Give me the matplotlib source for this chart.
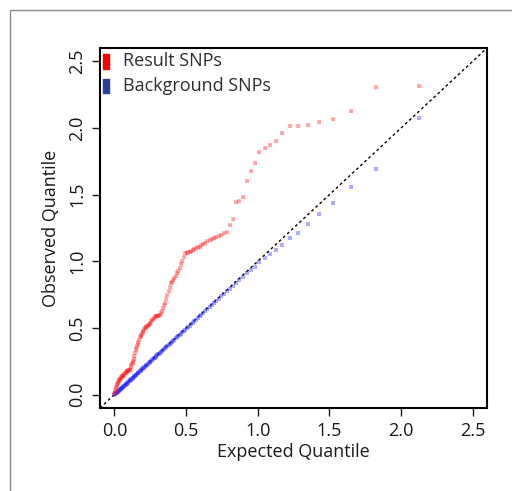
"""QQ plot of result SNPs vs background SNPs (observed vs expected -log10 quantiles)."""

import matplotlib

matplotlib.use("Agg")

import matplotlib.pyplot as plt
from matplotlib.patches import Rectangle

# expected quantiles (shared by both series), largest first
expected = [
    2.127, 1.826, 1.650, 1.525, 1.428, 1.349, 1.282, 1.224, 1.173, 1.127,
    1.086, 1.048, 1.013, 0.981, 0.951, 0.923, 0.897, 0.872, 0.848, 0.826,
    0.805, 0.785, 0.765, 0.747, 0.729, 0.712, 0.696, 0.680, 0.665, 0.650,
    0.636, 0.622, 0.608, 0.596, 0.583, 0.571, 0.559, 0.547, 0.536, 0.525,
    0.514, 0.504, 0.494, 0.484, 0.474, 0.464, 0.455, 0.446, 0.437, 0.428,
    0.419, 0.411, 0.403, 0.395, 0.387, 0.379, 0.371, 0.364, 0.356, 0.349,
    0.342, 0.335, 0.328, 0.321, 0.314, 0.307, 0.301, 0.294, 0.288, 0.282,
    0.276, 0.270, 0.264, 0.258, 0.252, 0.246, 0.241, 0.235, 0.229, 0.224,
    0.219, 0.213, 0.208, 0.203, 0.198, 0.193, 0.187, 0.183, 0.178, 0.173,
    0.168, 0.163, 0.159, 0.154, 0.149, 0.145, 0.140, 0.136, 0.131, 0.127,
    0.123, 0.118, 0.114, 0.110, 0.106, 0.102, 0.098, 0.094, 0.090, 0.086,
    0.082, 0.078, 0.074, 0.070, 0.066, 0.063, 0.059, 0.055, 0.051, 0.048,
    0.044, 0.041, 0.037, 0.034, 0.030, 0.027, 0.023, 0.020, 0.016, 0.013,
    0.010, 0.006, 0.003, 0.000,
]

result_observed = [
    2.318, 2.310, 2.126, 2.070, 2.046, 2.020, 2.013, 2.013, 1.961, 1.905,
    1.876, 1.853, 1.823, 1.740, 1.676, 1.605, 1.481, 1.451, 1.446, 1.318,
    1.275, 1.223, 1.210, 1.200, 1.193, 1.185, 1.178, 1.170, 1.160, 1.150,
    1.140, 1.130, 1.120, 1.110, 1.105, 1.098, 1.090, 1.085, 1.078, 1.073,
    1.068, 1.063, 1.060, 1.030, 1.000, 0.980, 0.950, 0.930, 0.910, 0.890,
    0.873, 0.860, 0.845, 0.836, 0.810, 0.780, 0.750, 0.720, 0.690, 0.670,
    0.650, 0.625, 0.610, 0.600, 0.595, 0.592, 0.590, 0.590, 0.588, 0.585,
    0.575, 0.565, 0.560, 0.550, 0.540, 0.530, 0.523, 0.520, 0.515, 0.510,
    0.505, 0.500, 0.490, 0.480, 0.470, 0.460, 0.450, 0.440, 0.430, 0.410,
    0.395, 0.380, 0.365, 0.350, 0.335, 0.310, 0.290, 0.270, 0.255, 0.240,
    0.235, 0.220, 0.205, 0.195, 0.188, 0.185, 0.183, 0.180, 0.178, 0.175,
    0.173, 0.165, 0.160, 0.155, 0.150, 0.146, 0.143, 0.140, 0.135, 0.130,
    0.125, 0.120, 0.115, 0.110, 0.105, 0.098, 0.090, 0.080, 0.070, 0.060,
    0.050, 0.035, 0.020, 0.005,
]

background_observed = [
    2.078, 1.695, 1.556, 1.438, 1.353, 1.278, 1.215, 1.175, 1.123, 1.085,
    1.055, 1.028, 0.993, 0.960, 0.935, 0.910, 0.885, 0.860, 0.838, 0.815,
    0.795, 0.775, 0.755, 0.737, 0.720, 0.703, 0.687, 0.671, 0.656, 0.641,
    0.627, 0.614, 0.600, 0.588, 0.575, 0.563, 0.551, 0.540, 0.529, 0.518,
    0.507, 0.497, 0.487, 0.477, 0.467, 0.458, 0.449, 0.440, 0.431, 0.422,
    0.413, 0.405, 0.397, 0.389, 0.381, 0.373, 0.366, 0.359, 0.351, 0.344,
    0.337, 0.330, 0.323, 0.316, 0.309, 0.302, 0.296, 0.290, 0.284, 0.278,
    0.272, 0.266, 0.260, 0.254, 0.248, 0.242, 0.237, 0.231, 0.225, 0.220,
    0.215, 0.210, 0.205, 0.200, 0.195, 0.190, 0.184, 0.180, 0.175, 0.170,
    0.165, 0.160, 0.156, 0.151, 0.146, 0.142, 0.137, 0.133, 0.128, 0.124,
    0.120, 0.115, 0.111, 0.107, 0.103, 0.099, 0.095, 0.091, 0.087, 0.083,
    0.079, 0.075, 0.071, 0.068, 0.064, 0.061, 0.057, 0.053, 0.049, 0.046,
    0.042, 0.039, 0.035, 0.032, 0.028, 0.025, 0.022, 0.019, 0.015, 0.012,
    0.009, 0.006, 0.003, 0.000,
]

ticks = [0.0, 0.5, 1.0, 1.5, 2.0, 2.5]
tick_labels = ["0.0", "0.5", "1.0", "1.5", "2.0", "2.5"]
limits = (-0.1, 2.6)

plt.rcParams["font.family"] = ["Open Sans", "DejaVu Sans"]
plt.rcParams["font.size"] = 13

fig = plt.figure(figsize=(5.12, 4.91), dpi=100)
ax = fig.add_axes([0.1953, 0.169, 0.7557, 0.733])

# partial outer frame like the source figure
fig.patches.append(
    Rectangle((10 / 512, -0.1), 1.2, 1 - 10 / 491 + 0.1, transform=fig.transFigure,
              fill=False, edgecolor="#8c8c8c", linewidth=1.0)
)

ax.plot(limits, limits, color="black", linestyle=(0, (2, 2)), linewidth=1.0, zorder=1)

ax.scatter(expected, background_observed, marker="s", s=5, color="#2828ff",
           alpha=0.38, linewidths=0, zorder=2)
ax.scatter(expected, result_observed, marker="s", s=12, color="#ff2020",
           alpha=0.3, linewidths=0, zorder=3)
ax.scatter(expected, result_observed, marker="x", s=6, color="#ff2020",
           alpha=0.25, linewidths=0.6, zorder=3)

ax.set_xlim(*limits)
ax.set_ylim(*limits)
ax.set_xticks(ticks)
ax.set_xticklabels(tick_labels)
ax.set_yticks(ticks)
ax.set_yticklabels(tick_labels, rotation=90, va="center")
ax.tick_params(direction="out", length=6, width=1, pad=4, colors="#1a1a1a")
for spine in ax.spines.values():
    spine.set_linewidth(1.5)

ax.set_xlabel("Expected Quantile", color="#1a1a1a", labelpad=2)
ax.set_ylabel("Observed Quantile", color="#1a1a1a", labelpad=6)

# legend: coloured blocks with labels
legend_items = [("Result SNPs", "#ff0000"), ("Background SNPs", "#2a3f9a")]
for row, (label, color) in enumerate(legend_items):
    y = 0.963 - row * 0.068
    ax.add_patch(Rectangle((0.008, y - 0.02), 0.016, 0.04, transform=ax.transAxes,
                           color=color, clip_on=False))
    ax.text(0.06, y, label, transform=ax.transAxes, va="center", ha="left",
            color="#2e2e2e", fontsize=13)

fig.savefig("out.png", dpi=100)
